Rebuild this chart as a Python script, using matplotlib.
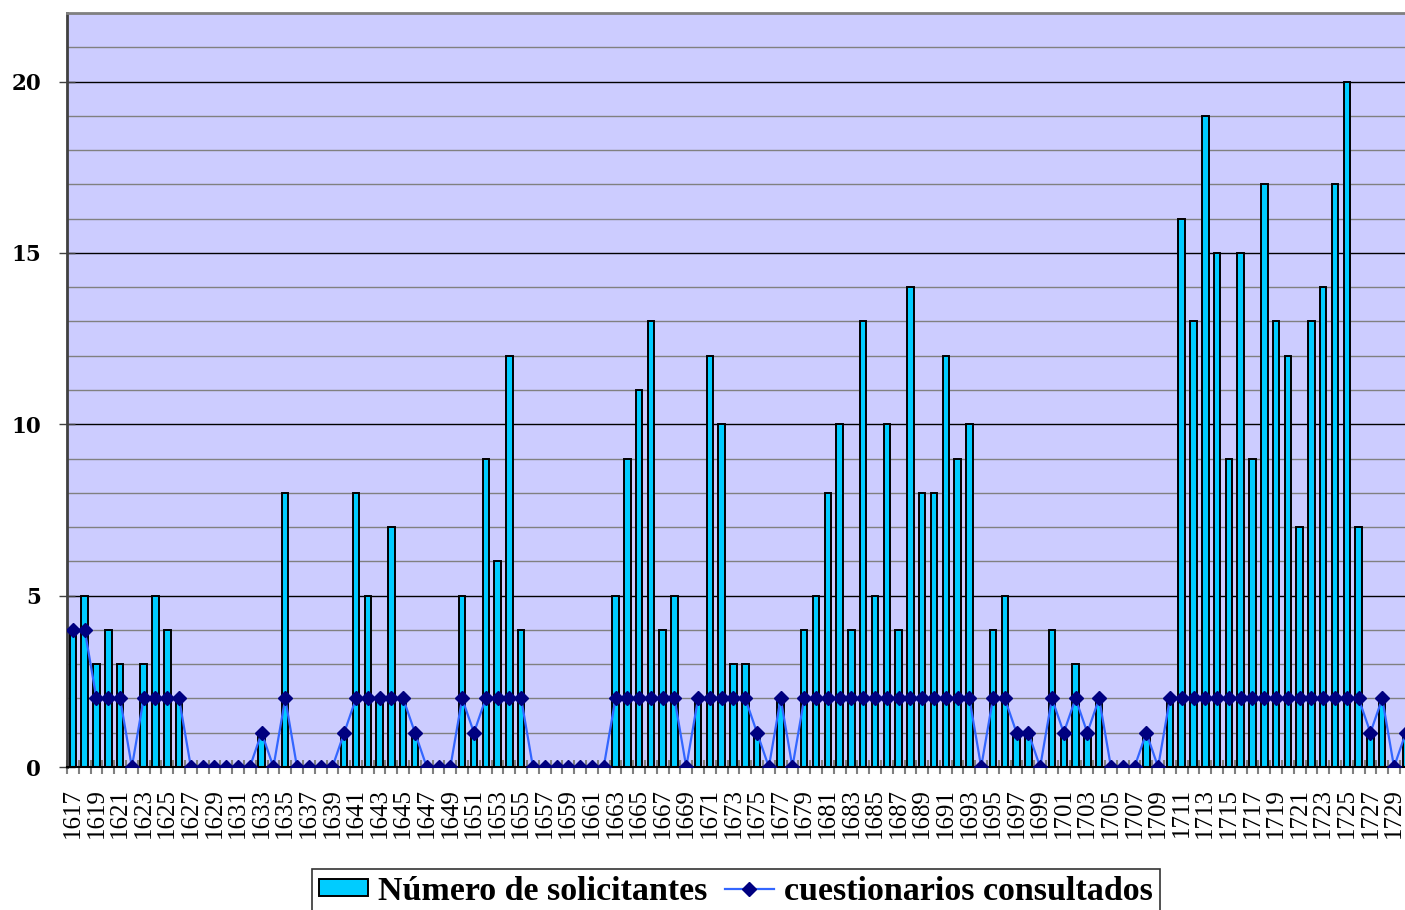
import numpy as np
import matplotlib
matplotlib.use("Agg")
import matplotlib.pyplot as plt
from matplotlib.ticker import MultipleLocator, FixedLocator

# years shown on the category axis (the picture is cut just after 1730)
years = list(range(1617, 1731))

solicitantes = [
    4, 5, 3, 4, 3, 0, 3, 5, 4, 2,          # 1617-1626
    0, 0, 0, 0, 0, 0, 1, 0, 8, 0,          # 1627-1636
    0, 0, 0, 1, 8, 5, 2, 7, 2, 1,          # 1637-1646
    0, 0, 0, 5, 1, 9, 6, 12, 4, 0,         # 1647-1656
    0, 0, 0, 0, 0, 0, 5, 9, 11, 13,        # 1657-1666
    4, 5, 0, 2, 12, 10, 3, 3, 1, 0,        # 1667-1676
    2, 0, 4, 5, 8, 10, 4, 13, 5, 10,       # 1677-1686
    4, 14, 8, 8, 12, 9, 10, 0, 4, 5,       # 1687-1696
    1, 1, 0, 4, 1, 3, 1, 2, 0, 0,          # 1697-1706
    0, 1, 0, 2, 16, 13, 19, 15, 9, 15,     # 1707-1716
    9, 17, 13, 12, 7, 13, 14, 17, 20, 7,   # 1717-1726
    1, 2, 0, 1,                            # 1727-1730
]

cuestionarios = [
    4, 4, 2, 2, 2, 0, 2, 2, 2, 2,
    0, 0, 0, 0, 0, 0, 1, 0, 2, 0,
    0, 0, 0, 1, 2, 2, 2, 2, 2, 1,
    0, 0, 0, 2, 1, 2, 2, 2, 2, 0,
    0, 0, 0, 0, 0, 0, 2, 2, 2, 2,
    2, 2, 0, 2, 2, 2, 2, 2, 1, 0,
    2, 0, 2, 2, 2, 2, 2, 2, 2, 2,
    2, 2, 2, 2, 2, 2, 2, 0, 2, 2,
    1, 1, 0, 2, 1, 2, 1, 2, 0, 0,
    0, 1, 0, 2, 2, 2, 2, 2, 2, 2,
    2, 2, 2, 2, 2, 2, 2, 2, 2, 2,
    1, 2, 0, 1,
]

x = np.arange(len(years))

fig = plt.figure(figsize=(14.05, 9.10), dpi=100)
ax = fig.add_axes([67 / 1405, 143 / 910, 1338 / 1405, 754 / 910])
ax.set_facecolor("#CCCCFF")
ax.set_axisbelow(True)

bars = ax.bar(x, solicitantes, width=0.55, color="#00CCFF", edgecolor="black",
              linewidth=1.4, label="Número de solicitantes", zorder=2)
line, = ax.plot(x, cuestionarios, color="#3366FF", linewidth=1.6, marker="D",
                markersize=7, markerfacecolor="#000080", markeredgecolor="#000080",
                label="cuestionarios consultados", zorder=3, clip_on=True)

ax.set_xlim(-0.5, 112.93)
ax.set_ylim(0, 22)

# y axis: labels every 5, grid every 1
ax.yaxis.set_major_locator(MultipleLocator(5))
ax.yaxis.set_minor_locator(MultipleLocator(1))
ax.grid(which="minor", axis="y", color="#808080", linewidth=1.0)
ax.grid(which="major", axis="y", color="black", linewidth=1.0)
ax.tick_params(axis="y", which="major", direction="inout", length=12, width=1,
               color="#404040", pad=12.5)
ax.tick_params(axis="y", which="minor", length=0)
for lab in ax.get_yticklabels():
    lab.set_family("DejaVu Serif")
    lab.set_fontweight("bold")
    lab.set_fontsize(15.5)

# x axis: a label every second year, tick marks between categories
ax.set_xticks(x[::2])
ax.set_xticklabels([str(y) for y in years[::2]], rotation=90,
                   family="Liberation Serif", fontsize=18)
ax.xaxis.set_minor_locator(FixedLocator(np.arange(-0.5, len(years), 1)))
ax.tick_params(axis="x", which="major", length=0, pad=15)
ax.tick_params(axis="x", which="minor", direction="inout", length=10, width=1.5,
               color="#808080")

ax.spines["right"].set_visible(False)
ax.spines["top"].set_color("#808080")
ax.spines["top"].set_linewidth(2)
ax.spines["left"].set_color("#404040")
ax.spines["left"].set_linewidth(2)
ax.spines["bottom"].set_color("black")
ax.spines["bottom"].set_linewidth(1.5)

leg = fig.legend(handles=[bars, line], loc="upper center",
                 bbox_to_anchor=(736 / 1405, 1 - 869 / 910), ncol=2,
                 frameon=True, fancybox=False, edgecolor="black",
                 prop={"family": "Liberation Serif", "weight": "bold", "size": 24.5},
                 handlelength=1.45, handleheight=0.4, handletextpad=0.3,
                 columnspacing=0.5, borderpad=0.2, borderaxespad=0)
leg.get_frame().set_linewidth(1.2)

fig.savefig("out.png", dpi=100)
